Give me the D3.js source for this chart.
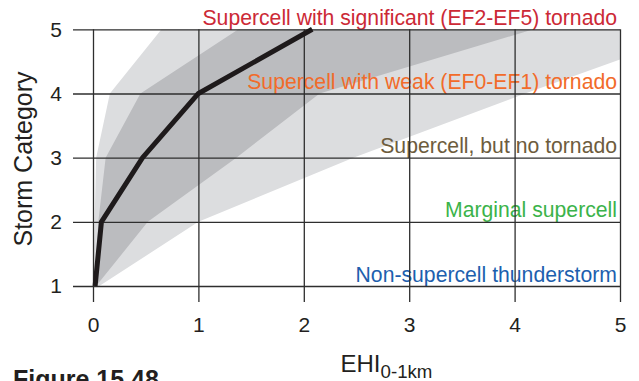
<!DOCTYPE html>
<html>
<head>
<meta charset="utf-8">
<script src="https://cdn.jsdelivr.net/npm/d3@7"></script>
<style>
  html, body { margin: 0; padding: 0; background: #fff; }
  svg { display: block; }
  text { font-family: "Liberation Sans", Arial, Helvetica, sans-serif; }
</style>
</head>
<body>
<svg id="chart" width="639" height="381"></svg>
<script>
// Storm category levels (y) and EHI (0-1 km) values (x)
const categories = [1, 2, 3, 4, 5];
const medianEHI  = [0.02, 0.08, 0.47, 1.0, 2.08];
const innerLow   = [0.02, 0.05, 0.12, 0.45, 1.38];
const innerHigh  = [0.03, 0.52, 1.36, 2.15, 4.18];
const outerLow   = [0.0, 0.015, 0.03, 0.16, 0.65];
const outerHigh  = [0.06, 1.0, 2.47, 4.1, 5.8];

const xTicks = [0, 1, 2, 3, 4, 5];
const yTicks = [1, 2, 3, 4, 5];

const stormTypes  = [
  "Supercell with significant (EF2-EF5) tornado",
  "Supercell with weak (EF0-EF1) tornado",
  "Supercell, but no tornado",
  "Marginal supercell",
  "Non-supercell thunderstorm"
];
const stormLevels = [5, 4, 3, 2, 1];
const stormColors = ["#cc2936", "#f26b2a", "#6d5c3d", "#3bb34a", "#1d5fae"];

const svg = d3.select("#chart");

const x = d3.scaleLinear().domain([0, 5]).range([93, 620]);
const y = d3.scaleLinear().domain([1, 5]).range([286, 29.3]);

const gridBottom = 302;
const gridLeft = 73;

svg.append("defs").append("clipPath").attr("id", "plot-clip")
  .append("rect")
  .attr("x", x(0)).attr("y", y(5))
  .attr("width", x(5) - x(0)).attr("height", y(1) - y(5));

const rows = categories.map((c, i) => ({
  cat: c, med: medianEHI[i],
  inLo: innerLow[i], inHi: innerHigh[i],
  outLo: outerLow[i], outHi: outerHigh[i]
}));

const bands = svg.append("g").attr("clip-path", "url(#plot-clip)");

bands.append("path")
  .datum(rows)
  .attr("fill", "#dcdddf")
  .attr("d", d3.area().y(d => y(d.cat)).x0(d => x(d.outLo)).x1(d => x(d.outHi)));

bands.append("path")
  .datum(rows)
  .attr("fill", "#bbbcbf")
  .attr("d", d3.area().y(d => y(d.cat)).x0(d => x(d.inLo)).x1(d => x(d.inHi)));

// Storm type labels, right aligned above each category line
svg.append("g").selectAll("text")
  .data(stormTypes)
  .join("text")
  .attr("x", 617)
  .attr("y", (d, i) => y(stormLevels[i]) - 4.5)
  .attr("text-anchor", "end")
  .attr("font-size", 21.2)
  .attr("fill", (d, i) => stormColors[i])
  .text(d => d);

// Grid via axes: tick lines span the plot
const xAxis = svg.append("g")
  .attr("transform", `translate(0,${gridBottom})`)
  .call(d3.axisBottom(x).tickValues(xTicks).tickFormat(d3.format("d"))
    .tickSize(-(gridBottom - y(5))).tickPadding(15));

const yAxis = svg.append("g")
  .attr("transform", `translate(${gridLeft},0)`)
  .call(d3.axisLeft(y).tickValues(yTicks).tickFormat(d3.format("d"))
    .tickSize(-(x(5) - gridLeft)).tickPadding(11));

[xAxis, yAxis].forEach(g => {
  g.select(".domain").remove();
  g.selectAll(".tick line").attr("stroke", "#2e2e2e").attr("stroke-width", 1.3);
  g.selectAll(".tick text")
    .attr("font-size", 21)
    .attr("fill", "#231f20")
    .attr("font-family", "'Liberation Sans', Arial, Helvetica, sans-serif");
});

// Median line
svg.append("path")
  .datum(rows)
  .attr("fill", "none")
  .attr("stroke", "#1e1a1b")
  .attr("stroke-width", 5)
  .attr("stroke-linejoin", "miter")
  .attr("d", d3.line().x(d => x(d.med)).y(d => y(d.cat)));

// Axis titles
svg.append("text")
  .attr("transform", `translate(32,${159}) rotate(-90)`)
  .attr("text-anchor", "middle")
  .attr("font-size", 25)
  .attr("fill", "#231f20")
  .text("Storm Category");

const xt = svg.append("text")
  .attr("x", 340.5)
  .attr("y", 372)
  .attr("font-size", 24)
  .attr("fill", "#231f20");
xt.append("tspan").text("EHI");
xt.append("tspan").attr("font-size", 18.7).attr("dy", 6).text("0-1km");

// Figure caption
svg.append("text")
  .attr("x", 13)
  .attr("y", 388)
  .attr("font-family", "'Liberation Serif', 'DejaVu Serif', serif")
  .attr("font-weight", "bold")
  .attr("font-size", 25)
  .attr("fill", "#231f20")
  .text("Figure 15.48");
</script>
</body>
</html>
